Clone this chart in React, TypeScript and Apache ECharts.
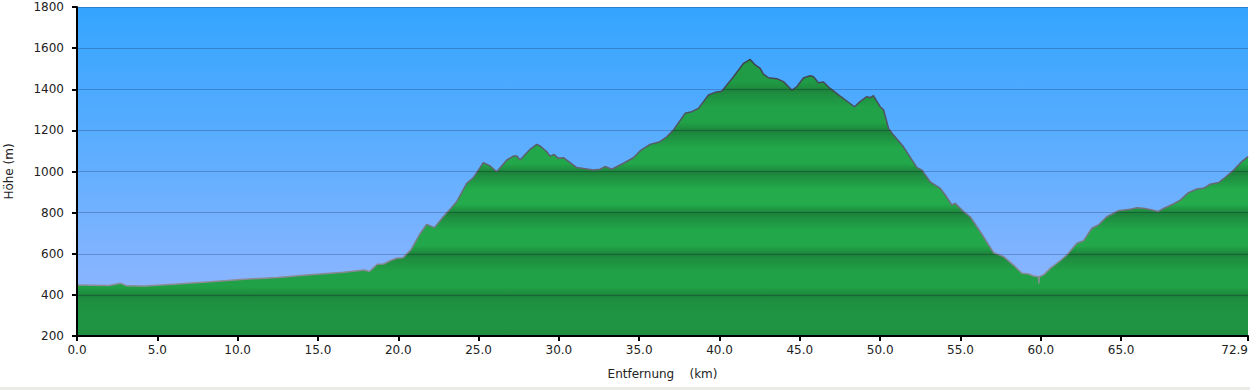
import React, { useEffect, useRef } from "react";
import * as echarts from "echarts";

const distanceKm: number[] = [
  0, 1.0, 2.0, 2.7, 3.1, 4.2, 6.2, 8.3, 10.4, 12.5, 14.5, 16.6, 17.9, 18.2, 18.7, 19.1, 19.5, 19.9, 20.3,
  20.8, 21.3, 21.77, 22.25, 22.81, 23.64, 24.27, 24.68, 25.3, 25.72, 26.13, 26.76, 27.17, 27.38, 27.58,
  28.21, 28.62, 28.83, 29.25, 29.45, 29.7, 29.97, 30.28, 30.7, 31.11, 31.53, 32.15, 32.57, 32.88, 33.29,
  34.02, 34.64, 35.05, 35.68, 36.3, 36.72, 37.13, 37.86, 38.27, 38.69, 39.31, 39.73, 40.14, 40.87, 41.49,
  41.91, 42.22, 42.53, 42.73, 43.05, 43.57, 43.98, 44.5, 44.81, 45.22, 45.64, 45.85, 46.16, 46.47, 46.89,
  47.51, 48.4, 48.75, 49.17, 49.38, 49.58, 50.0, 50.21, 50.52, 50.83, 51.45, 52.29, 52.6, 53.11, 53.74,
  54.05, 54.46, 54.67, 55.19, 55.6, 56.23, 57.06, 57.68, 58.3, 58.82, 59.23, 59.54, 59.86, 59.88, 59.9,
  60.17, 60.59, 61.21, 61.63, 62.25, 62.66, 63.18, 63.59, 64.11, 64.84, 65.57, 65.98, 66.5, 66.92, 67.29,
  67.64, 68.26, 68.68, 69.2, 69.72, 70.13, 70.55, 71.07, 71.49, 72.01, 72.52, 72.9,
];

const elevationM: number[] = [
  448, 447, 446, 457, 444, 443, 453, 464, 476, 485, 498, 510, 521, 514, 549, 550, 566, 578, 581,
  620, 690, 743, 727, 780, 853, 943, 970, 1043, 1027, 999, 1056, 1075, 1075, 1056,
  1108, 1132, 1124, 1096, 1075, 1083, 1064, 1067, 1043, 1019, 1015, 1007, 1011, 1024, 1011,
  1040, 1067, 1100, 1132, 1145, 1169, 1202, 1283, 1291, 1307, 1372, 1385, 1390, 1461, 1526,
  1545, 1518, 1501, 1474, 1456, 1451, 1437, 1396, 1412, 1455, 1466, 1461, 1432, 1435, 1404,
  1367, 1315, 1340, 1364, 1359, 1369, 1315, 1300, 1210, 1177, 1120, 1019, 1007, 950, 918,
  886, 837, 845, 805, 780, 707, 605, 586, 545, 505, 502, 492, 488, 455, 488,
  497, 529, 566, 594, 651, 663, 724, 740, 780, 809, 816, 824, 820, 813, 805,
  820, 842, 861, 897, 915, 918, 938, 946, 972, 1007, 1048, 1072,
];

const xTickValues: number[] = [0, 5, 10, 15, 20, 25, 30, 35, 40, 45, 50, 55, 60, 65, 72.9];

const FONT = "DejaVu Sans";

function greenStops() {
  const stops: { offset: number; color: string }[] = [];
  const light = ["#1f9744", "#209c46", "#21a248", "#22a84b", "#23ab4c", "#22a84b", "#21a147", "#1f9442"];
  const dark = "#1c8039";
  const mid = "#1e8e3f";
  for (let k = 0; k < 8; k++) {
    const a = k * 0.125;
    const push = (o: number, c: string) => stops.push({ offset: Math.min(1, Math.max(0, o)), color: c });
    push(a, dark);
    push(a + 0.015, mid);
    push(a + 0.055, light[k]);
    push(a + 0.1, light[k]);
    push(a + 0.12, mid);
  }
  stops.push({ offset: 1, color: "#1c8039" });
  return stops;
}

export default function App() {
  const ref = useRef<HTMLDivElement>(null);

  useEffect(() => {
    if (!ref.current) return;
    const chart = echarts.init(ref.current, undefined, { renderer: "svg" });
    const data = distanceKm.map((d, i) => [d, elevationM[i]]);
    const top = 7;
    const bottom = 336;

    chart.setOption({
      animation: false,
      backgroundColor: "#ffffff",
      grid: {
        left: 77,
        right: 2,
        top: top,
        bottom: 390 - bottom,
        containLabel: false,
        outerBoundsMode: "none",
        show: true,
        borderWidth: 0,
        backgroundColor: new echarts.graphic.LinearGradient(0, 0, 0, 1, [
          { offset: 0, color: "#34a4ff" },
          { offset: 0.45, color: "#5eaeff" },
          { offset: 0.8, color: "#86b4ff" },
          { offset: 1, color: "#96b9ff" },
        ]),
      },
      xAxis: {
        type: "value",
        min: 0,
        max: 72.9,
        interval: 5,
        z: 3,
        name: "Entfernung    (km)",
        nameLocation: "middle",
        nameGap: 32,
        nameTextStyle: { fontFamily: FONT, fontSize: 12, color: "#222" },
        axisLine: { show: true, lineStyle: { color: "#000", width: 2 } },
        axisTick: { show: true, length: 5, customValues: xTickValues, lineStyle: { color: "#000", width: 2 } },
        axisLabel: {
          customValues: xTickValues,
          fontFamily: FONT,
          fontSize: 12,
          color: "#222",
          margin: 8,
          alignMaxLabel: "right",
          formatter: (v: number) => v.toFixed(1),
        },
        splitLine: { show: false },
      },
      yAxis: {
        type: "value",
        min: 200,
        max: 1800,
        interval: 200,
        z: 3,
        name: "Höhe (m)",
        nameLocation: "middle",
        nameGap: 62,
        nameTextStyle: { fontFamily: FONT, fontSize: 12, color: "#222" },
        axisLine: { show: true, lineStyle: { color: "#000", width: 2 } },
        axisTick: { show: true, length: 5, lineStyle: { color: "#000", width: 2 } },
        axisLabel: {
          fontFamily: FONT,
          fontSize: 12,
          color: "#222",
          margin: 13,
          formatter: (v: number) => String(v),
        },
        splitLine: { show: true, lineStyle: { color: "rgba(0,0,40,0.22)", width: 1 } },
      },
      series: [
        {
          type: "line",
          data,
          z: 2,
          symbol: "none",
          smooth: false,
          lineStyle: {
            width: 1.5,
            color: new echarts.graphic.LinearGradient(0, top, 0, bottom, [
              { offset: 0, color: "#2c3040" },
              { offset: 0.45, color: "#5c5e6c" },
              { offset: 1, color: "#a0a0a8" },
            ], true),
          },
          areaStyle: {
            opacity: 1,
            origin: "start",
            color: new echarts.graphic.LinearGradient(0, top, 0, bottom, greenStops(), true),
          },
        },
      ],
      graphic: [
        { type: "rect", shape: { x: 0, y: 387, width: 1250, height: 3 }, style: { fill: "#ecece6" }, silent: true },
      ],
    });

    return () => chart.dispose();
  }, []);

  return (
    <div
      ref={ref}
      style={{ position: "fixed", left: 0, top: 0, width: 1250, height: 390, background: "#fff" }}
    />
  );
}
